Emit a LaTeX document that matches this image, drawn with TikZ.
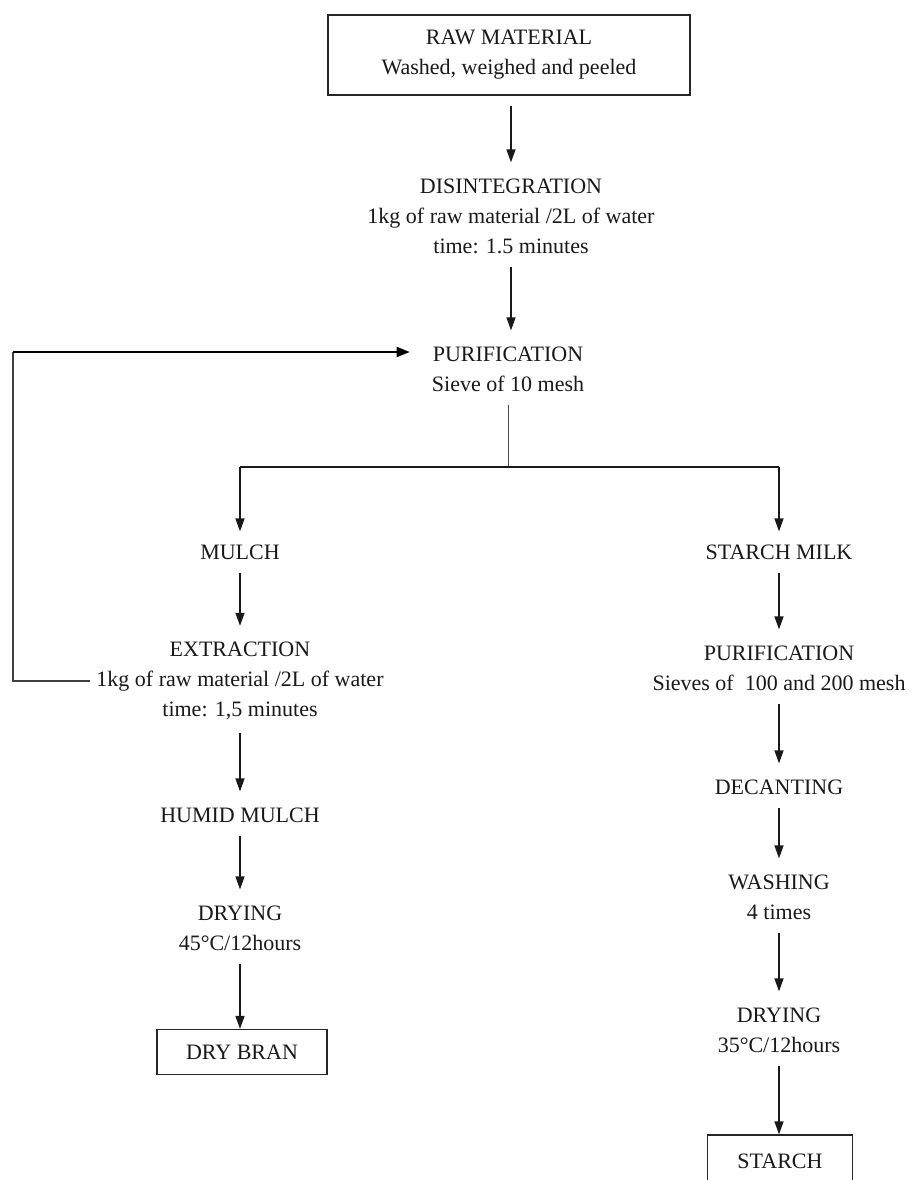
\documentclass[tikz,border=0pt]{standalone}
\usepackage{fontspec}
\setmainfont{Liberation Serif}
\usetikzlibrary{arrows.meta}
\begin{document}
\begin{tikzpicture}[x=1pt,y=-1pt,
  txt/.style={align=center, font=\fontsize{22}{30}\selectfont, text=black!90, inner xsep=6pt, inner ysep=13pt},
  boxed/.style={txt, draw=black!85, line width=1.3pt, inner sep=0pt},
  arr/.style={-{Triangle[length=13pt,width=9pt]}, line width=1.4pt, black!90, shorten >=3pt},
  ln/.style={line width=1.4pt, black!90},
  thinln/.style={line width=1pt, black!70}]
\clip (0,0) rectangle (919,1180);
\fill[white] (0,0) rectangle (919,1180);

% main column
\node[boxed, minimum width=362pt, minimum height=80pt] (raw) at (509,55) {RAW MATERIAL\\Washed, weighed and peeled};
\node[txt] (dis) at (511,216) {DISINTEGRATION\\1kg of raw material /2L of water\\time: 1.5 minutes};
\node[txt] (pur1) at (508,369) {PURIFICATION\\Sieve of 10 mesh};

% left column
\node[txt] (mulch) at (240,552) {MULCH};
\node[txt] (ext) at (240,681) {EXTRACTION\\1kg of raw material /2L of water\\time: 1,5 minutes};
\node[txt] (humid) at (240,815) {HUMID MULCH};
\node[txt] (dry1) at (240,928) {DRYING\\45°C/12hours};
\node[boxed, minimum width=170pt, minimum height=45pt] (bran) at (242,1052) {DRY BRAN};

% right column
\node[txt] (milk) at (779,552) {STARCH MILK};
\node[txt] (pur2) at (779,668) {PURIFICATION\\Sieves of \ 100 and 200 mesh};
\node[txt] (dec) at (779,787) {DECANTING};
\node[txt] (wash) at (779,897) {WASHING\\4 times};
\node[txt] (dry2) at (779,1030) {DRYING\\35°C/12hours};
\node[boxed, minimum width=145pt, minimum height=52pt] (starch) at (780,1161) {STARCH};

% connectors main column
\draw[arr, shorten <=10pt] (raw.south -| dis.north) -- (dis.north);
\draw[arr] (dis.south) -- (dis.south |- pur1.north);

% split
\coordinate (split) at (508,467);
\draw[thinln] (pur1.south) -- (split);
\draw[ln] (split -| mulch.north) -- (split -| milk.north);
\draw[arr, shorten >=0pt] (split -| mulch.north) -- (mulch.north);
\draw[arr, shorten >=0pt] (split -| milk.north) -- (milk.north);

% left chain
\draw[arr] (mulch.south) -- (ext.north);
\draw[arr] (ext.south) -- (humid.north);
\draw[arr] (humid.south) -- (dry1.north);
\draw[arr, shorten >=0pt] (dry1.south) -- (dry1.south |- bran.north);

% right chain
\draw[arr] (milk.south) -- (pur2.north);
\draw[arr] (pur2.south) -- (dec.north);
\draw[arr] (dec.south) -- (wash.north);
\draw[arr] (wash.south) -- (dry2.north);
\draw[arr, shorten >=0pt] (dry2.south) -- (dry2.south |- starch.north);

% feedback loop
\coordinate (fb) at (13,352);
\draw[line width=1.3pt, black!75] (ext.west) -| (fb);
\draw[-{Triangle[length=13pt,width=10pt]}, line width=2pt, black, shorten >=16pt] (fb) -- (fb -| pur1.west);
\end{tikzpicture}
\end{document}
